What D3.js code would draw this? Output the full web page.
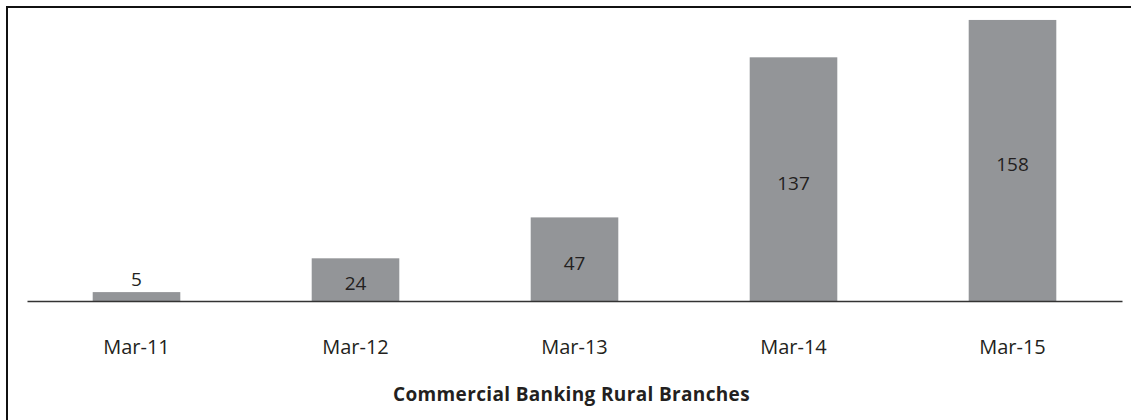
<!DOCTYPE html>
<html>
<head>
<meta charset="utf-8">
<script src="https://cdn.jsdelivr.net/npm/d3@7"></script>
<style>
  html, body { margin: 0; padding: 0; background: #fff; }
  svg { display: block; }
  text { font-family: "Open Sans", "Noto Sans", sans-serif; fill: #231f20; }
</style>
</head>
<body>
<script>
// Rural branch counts by year-end
const categories = ["Mar-11", "Mar-12", "Mar-13", "Mar-14", "Mar-15"];
const branches = [5, 24, 47, 137, 158];
const chartTitle = "Commercial Banking Rural Branches";

const W = 1131, H = 420;
const svg = d3.select("body").append("svg").attr("width", W).attr("height", H);

// Frame (runs off the right and bottom edges)
svg.append("rect")
  .attr("x", 7).attr("y", 7)
  .attr("width", W + 20).attr("height", H + 20)
  .attr("fill", "none").attr("stroke", "#111").attr("stroke-width", 2);

const x = d3.scaleBand().domain(categories).range([27, 1122])
  .paddingInner(0.6).paddingOuter(0.3);
const y = d3.scaleLinear().domain([0, 160]).range([301, 16.4]);

const data = categories.map((c, i) => ({ cat: c, value: branches[i] }));

svg.append("g").selectAll("rect").data(data).join("rect")
  .attr("x", d => x(d.cat))
  .attr("y", d => y(d.value))
  .attr("width", x.bandwidth())
  .attr("height", d => y(0) - y(d.value))
  .attr("fill", "#939598");

// Value labels: centred in the bar, or just above when the bar is too short
svg.append("g").selectAll("text").data(data).join("text")
  .attr("x", d => x(d.cat) + x.bandwidth() / 2)
  .attr("y", d => {
    const h = y(0) - y(d.value);
    return h < 25 ? y(d.value) - 6 : (y(0) + y(d.value)) / 2 + 4 + 6.5;
  })
  .attr("text-anchor", "middle")
  .attr("font-size", 19)
  .text(d => d.value);

// Baseline axis with category labels
const axis = d3.axisBottom(x).tickSize(0).tickPadding(0);
const gx = svg.append("g").attr("transform", `translate(0,${y(0)})`).call(axis);
gx.select(".domain").attr("stroke", "#333").attr("stroke-width", 1.5);
gx.selectAll(".tick text")
  .attr("font-family", "\"Open Sans\", \"Noto Sans\", sans-serif")
  .attr("font-size", 20)
  .attr("fill", "#231f20")
  .attr("dy", null)
  .attr("y", 53);

svg.append("text")
  .attr("x", (27 + 1122) / 2 - 3)
  .attr("y", 401)
  .attr("text-anchor", "middle")
  .attr("font-size", 19)
  .attr("font-weight", "bold")
  .attr("letter-spacing", 0.35)
  .text(chartTitle);
</script>
</body>
</html>
